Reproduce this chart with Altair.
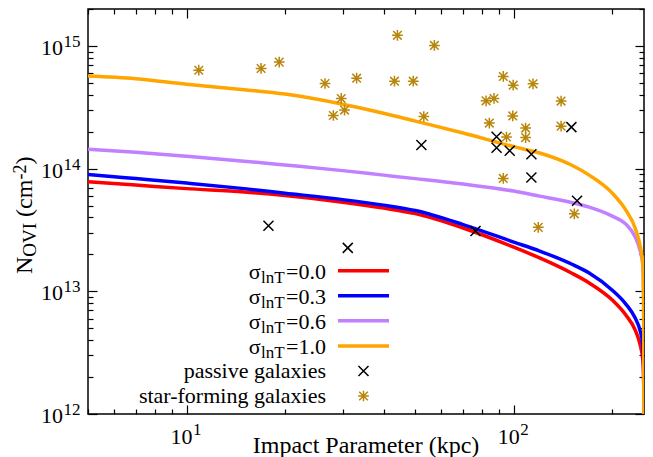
import altair as alt
import pandas as pd

# ---------------- data ----------------
curve_x = [5, 7, 10, 15, 20, 30, 40, 50, 70, 100, 120, 150, 170, 200, 220, 235, 243, 248, 249.5, 250]
n_s00 = [7.80e13, 7.34e13, 6.87e13, 6.44e13, 6.03e13, 5.33e13, 4.77e13, 4.30e13, 3.28e13, 2.29e13,
         1.87e13, 1.41e13, 1.17e13, 8.49e12, 6.41e12, 4.83e12, 3.72e12, 2.75e12, 1.72e12, 1e11]
n_s03 = [8.97e13, 8.29e13, 7.62e13, 6.87e13, 6.31e13, 5.59e13, 5.04e13, 4.55e13, 3.50e13, 2.52e13,
         2.13e13, 1.67e13, 1.41e13, 1.02e13, 7.87e12, 6.05e12, 4.83e12, 3.65e12, 2.28e12, 1e11]
n_s06 = [1.44e14, 1.36e14, 1.26e14, 1.15e14, 1.07e14, 9.63e13, 8.85e13, 8.29e13, 7.48e13, 6.56e13,
         5.97e13, 5.30e13, 4.85e13, 4.10e13, 3.53e13, 2.77e13, 2.17e13, 1.64e13, 8.49e12, 1e11]
n_s10 = [5.68e14, 5.41e14, 4.88e14, 4.40e14, 4.05e14, 3.35e14, 2.83e14, 2.44e14, 1.95e14, 1.51e14,
         1.34e14, 1.07e14, 8.85e13, 6.31e13, 4.59e13, 3.27e13, 2.38e13, 1.64e13, 5.83e12, 1e11]

passive_x = [52.2, 88.6, 88.6, 97.2, 113.2, 113.2, 150.0, 156.1, 17.8, 76.4, 31.1]
passive_n = [1.56e14, 1.82e14, 1.48e14, 1.40e14, 1.31e14, 8.48e13, 2.18e14, 5.47e13, 3.42e13, 3.10e13, 2.26e13]

sf_x = [10.9, 16.9, 19.2, 26.5, 33.1, 29.7, 30.4, 28.1, 44.1, 57.2, 43.2, 49.3, 53.1, 92.9,
        99.6, 114.5, 82.3, 87.0, 99.3, 84.2, 108.7, 108.7, 95.0, 139.5, 139.5, 92.9, 153.1, 118.8]
sf_n = [6.34e14, 6.55e14, 7.38e14, 4.94e14, 5.46e14, 3.73e14, 3.00e14, 2.71e14, 1.22e15, 1.01e15,
        5.16e14, 5.16e14, 2.66e14, 5.64e14, 4.79e14, 4.91e14, 3.57e14, 3.73e14, 2.69e14, 2.35e14,
        2.14e14, 1.79e14, 1.81e14, 3.55e14, 2.22e14, 8.32e13, 4.28e13, 3.32e13]

series_labels = ["0.0", "0.3", "0.6", "1.0"]
series_colors = ["#ff0000", "#0000ff", "#c080ff", "#ffa500"]
point_labels = ["passive galaxies", "star-forming galaxies"]
point_colors = ["black", "#b8860b"]

y_label_vals = [1e12, 1e13, 1e14, 1e15]
y_label_exps = ["12", "13", "14", "15"]
x_label_vals = [10, 100]
x_label_exps = ["1", "2"]
y_tick_vals = [m * 10.0 ** e for e in (12, 13, 14) for m in range(1, 10)] + [1e15, 2e15]
x_tick_vals = [5, 6, 7, 8, 9] + [m * 10 for m in range(1, 10)] + [100, 200]

# ---------------- layout / style ----------------
W, H = 556, 405
FONT = "Liberation Serif"
XSCALE = alt.Scale(type="log", domain=[5, 250], nice=False)
YSCALE = alt.Scale(type="log", domain=[1e12, 2e15], nice=False)
X_SHAPE = "M-1,-1L1,1M-1,1L1,-1"
STAR_SHAPE = "M-1,0L1,0M0,-1L0,1M-0.8,-0.8L0.8,0.8M-0.8,0.8L0.8,-0.8"
MAJOR = "abs(log(datum.value)/LN10 - round(log(datum.value)/LN10)) < 0.001"
TICK_SIZE = {"condition": {"test": MAJOR, "value": 9}, "value": 5}


def tick_axis(orient, offset, values):
    return alt.Axis(orient=orient, offset=offset, values=values, labels=False, domain=False,
                    grid=False, title=None, tickSize=TICK_SIZE, tickColor="black", tickWidth=1.2)


ONE = pd.DataFrame({"_": [0]})


def txt(text, x, y, size=22, align="left", baseline="alphabetic", angle=0):
    return alt.Chart(ONE).mark_text(text=text, align=align, baseline=baseline, angle=angle,
                                    font=FONT, fontSize=size, color="black").encode(
        x=alt.value(x), y=alt.value(y))


layers = []
curves = [n_s00, n_s03, n_s06, n_s10]
for i, (vals, col) in enumerate(zip(curves, series_colors)):
    df = pd.DataFrame({"b": curve_x, "n": vals})
    if i == 0:
        xa = tick_axis("bottom", -H, x_tick_vals)   # ticks on top edge, inward
        ya = tick_axis("left", -W, y_tick_vals)     # ticks on right edge, inward
    elif i == 1:
        xa = tick_axis("top", -H, x_tick_vals)      # ticks on bottom edge, inward
        ya = tick_axis("right", -W, y_tick_vals)    # ticks on left edge, inward
    else:
        xa = None
        ya = None
    layers.append(alt.Chart(df).mark_line(color=col, strokeWidth=3.5, clip=True,
                                          interpolate="monotone").encode(
        x=alt.X("b:Q", scale=XSCALE, axis=xa),
        y=alt.Y("n:Q", scale=YSCALE, axis=ya)))

layers.append(alt.Chart(pd.DataFrame({"b": passive_x, "n": passive_n})).mark_point(
    shape=X_SHAPE, filled=False, color=point_colors[0], size=100, strokeWidth=1.5, opacity=1).encode(
    x=alt.X("b:Q", scale=XSCALE, axis=None), y=alt.Y("n:Q", scale=YSCALE, axis=None)))
layers.append(alt.Chart(pd.DataFrame({"b": sf_x, "n": sf_n})).mark_point(
    shape=STAR_SHAPE, filled=False, color=point_colors[1], size=115, strokeWidth=1.5, opacity=1).encode(
    x=alt.X("b:Q", scale=XSCALE, axis=None), y=alt.Y("n:Q", scale=YSCALE, axis=None)))

# tick labels (10 with superscript exponent)
ylab = pd.DataFrame({"v": y_label_vals, "e": y_label_exps})
layers.append(alt.Chart(ylab).mark_text(text="10", align="right", baseline="middle", dy=2,
                                        font=FONT, fontSize=22, color="black").encode(
    x=alt.value(-25), y=alt.Y("v:Q", scale=YSCALE, axis=None)))
layers.append(alt.Chart(ylab).mark_text(align="left", baseline="middle", dy=-4,
                                        font=FONT, fontSize=17, color="black").encode(
    x=alt.value(-24.5), y=alt.Y("v:Q", scale=YSCALE, axis=None), text="e:N"))
xlab = pd.DataFrame({"v": x_label_vals, "e": x_label_exps})
layers.append(alt.Chart(xlab).mark_text(text="10", align="right", baseline="alphabetic", dx=6,
                                        font=FONT, fontSize=22, color="black").encode(
    x=alt.X("v:Q", scale=XSCALE, axis=None), y=alt.value(H + 30)))
layers.append(alt.Chart(xlab).mark_text(align="left", baseline="alphabetic", dx=6.5,
                                        font=FONT, fontSize=17, color="black").encode(
    x=alt.X("v:Q", scale=XSCALE, axis=None), y=alt.value(H + 21), text="e:N"))

# axis titles
layers.append(txt("Impact Parameter (kpc)", W / 2, H + 39, size=24, align="center"))
layers.append(txt("N", -56, 265, size=24, angle=270))
layers.append(txt("OVI", -52, 247.7, size=19, angle=270))
layers.append(txt("(cm", -56, 207.9, size=24, angle=270))
layers.append(txt("-2", -62.5, 170.6, size=18, angle=270))
layers.append(txt(")", -56, 155.5, size=24, angle=270))

# legend (inside plot)
row0, step = 261.7, 25.06
for i, (lab, col) in enumerate(zip(series_labels, series_colors)):
    ry = row0 + i * step
    layers.append(txt("σ", 172.5, ry + 8.5, size=22, align="right"))
    layers.append(txt("lnT", 173, ry + 12.5, size=17, align="left"))
    layers.append(txt("=" + lab, 238, ry + 8.5, size=22, align="right"))
    layers.append(alt.Chart(ONE).mark_rule(color=col, strokeWidth=3.5).encode(
        x=alt.value(250), x2=alt.value(301), y=alt.value(ry)))
for j, (lab, col, shp, sz) in enumerate(zip(point_labels, point_colors, [X_SHAPE, STAR_SHAPE], [100, 115])):
    ry = row0 + (4 + j) * step
    layers.append(txt(lab, 238, ry + 7, size=22, align="right"))
    layers.append(alt.Chart(ONE).mark_point(shape=shp, filled=False, color=col, size=sz,
                                            strokeWidth=1.5, opacity=1).encode(
        x=alt.value(275.5), y=alt.value(ry)))

chart = alt.layer(*layers).resolve_axis(x="independent", y="independent").properties(
    width=W, height=H,
    autosize=alt.AutoSizeParams(type="none"),
    padding={"left": 80, "top": 1, "right": 1, "bottom": 44},
).configure_view(stroke="black", strokeWidth=1.5)

chart.save("out.html", embed_options={"renderer": "svg", "actions": False})
